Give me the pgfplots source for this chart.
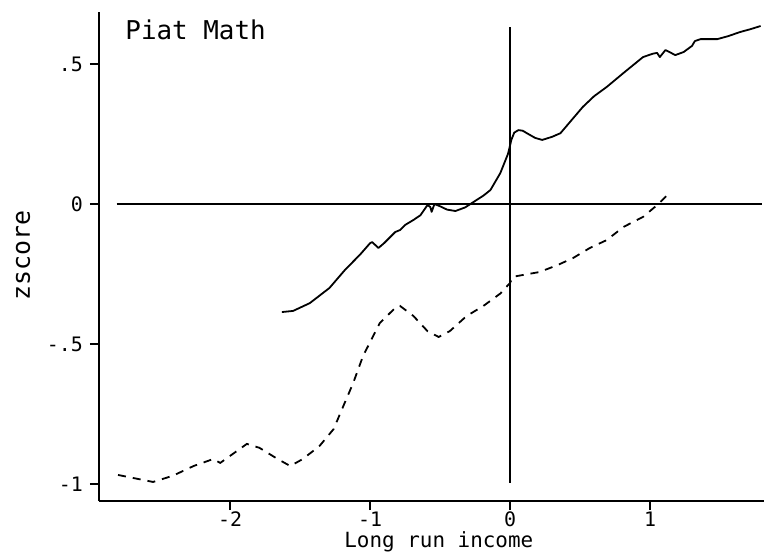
\documentclass[border=0pt]{standalone}
\usepackage{pgfplots}
\pgfplotsset{compat=1.18}
\usepackage{fontspec}
\setmainfont{DejaVu Sans Mono}
\begin{document}
\begin{tikzpicture}
\path[use as bounding box] (0,0) rectangle (382bp,278bp);
\begin{axis}[
  at={(49.5bp,27.5bp)}, anchor=south west,
  scale only axis, width=332.5bp, height=244.5bp,
  xmin=-2.936, xmax=1.814, ymin=-1.061, ymax=0.686,
  axis x line*=bottom, axis y line*=left,
  axis line style={-, line width=1bp},
  tick align=outside, major tick length=4.5bp,
  tick style={line width=0.8bp, black},
  xtick={-2,-1,0,1}, xticklabels={-2,-1,0,1},
  ytick={-1,-0.5,0,0.5}, yticklabels={-1,-.5,0,.5},
  tick label style={font=\fontsize{10}{12}\selectfont},
  xticklabel style={yshift=2.5bp},
  xlabel={Long run income},
  ylabel={zscore},
  xlabel style={font=\fontsize{10.5}{12}\selectfont, at={(axis description cs:0.511,0)}, anchor=center, yshift=-20.5bp},
  ylabel style={font=\fontsize{12.5}{14}\selectfont, at={(axis description cs:-0.114,0.503)}, anchor=center, rotate=0},
  clip=false,
]
\addplot[black, line width=0.8bp] coordinates {(-2.81,0) (1.8,0)};
\addplot[black, line width=0.9bp] coordinates {(0,-0.996) (0,0.632)};
\addplot[black, line width=0.9bp, line join=round] coordinates {
(-1.63,-0.386)(-1.55,-0.382)(-1.43,-0.354)(-1.29,-0.30)(-1.18,-0.236)(-1.07,-0.18)
(-1.00,-0.14)(-0.985,-0.136)(-0.94,-0.157)(-0.90,-0.14)(-0.82,-0.10)(-0.786,-0.093)
(-0.75,-0.075)(-0.69,-0.057)(-0.64,-0.04)(-0.59,-0.004)(-0.57,-0.01)(-0.56,-0.028)
(-0.54,0.0)(-0.50,-0.008)(-0.45,-0.02)(-0.39,-0.025)(-0.32,-0.012)(-0.24,0.014)
(-0.19,0.03)(-0.14,0.05)(-0.07,0.11)(-0.014,0.18)(0.01,0.23)(0.03,0.255)(0.06,0.264)
(0.09,0.262)(0.12,0.253)(0.18,0.236)(0.23,0.229)(0.30,0.24)(0.36,0.253)(0.44,0.30)
(0.52,0.347)(0.60,0.385)(0.69,0.418)(0.81,0.468)(0.95,0.525)(1.02,0.537)(1.05,0.54)
(1.07,0.525)(1.11,0.55)(1.15,0.54)(1.18,0.532)(1.24,0.543)(1.30,0.565)(1.32,0.582)
(1.36,0.589)(1.48,0.589)(1.56,0.60)(1.64,0.614)(1.72,0.625)(1.79,0.636)};
\addplot[black, line width=0.9bp, dash pattern=on 4bp off 3.5bp] coordinates {
(-2.80,-0.968)(-2.55,-0.993)(-2.41,-0.971)(-2.26,-0.936)(-2.12,-0.911)(-2.07,-0.925)
(-2.0,-0.9)(-1.88,-0.857)(-1.79,-0.871)(-1.66,-0.911)(-1.57,-0.936)(-1.48,-0.911)
(-1.36,-0.864)(-1.26,-0.804)(-1.19,-0.721)(-1.12,-0.639)(-1.05,-0.543)(-0.93,-0.425)
(-0.82,-0.371)(-0.786,-0.364)(-0.69,-0.40)(-0.59,-0.454)(-0.51,-0.475)(-0.43,-0.454)
(-0.31,-0.40)(-0.19,-0.364)(-0.07,-0.32)(0,-0.282)(0.02,-0.26)(0.21,-0.243)
(0.34,-0.218)(0.45,-0.193)(0.57,-0.157)(0.69,-0.129)(0.81,-0.082)(0.95,-0.046)
(1.05,-0.004)(1.13,0.035)};
\node[anchor=west, font=\fontsize{13}{15}\selectfont, inner sep=0pt] at (axis cs:-2.75,0.621) {Piat Math};
\end{axis}
\end{tikzpicture}
\end{document}
